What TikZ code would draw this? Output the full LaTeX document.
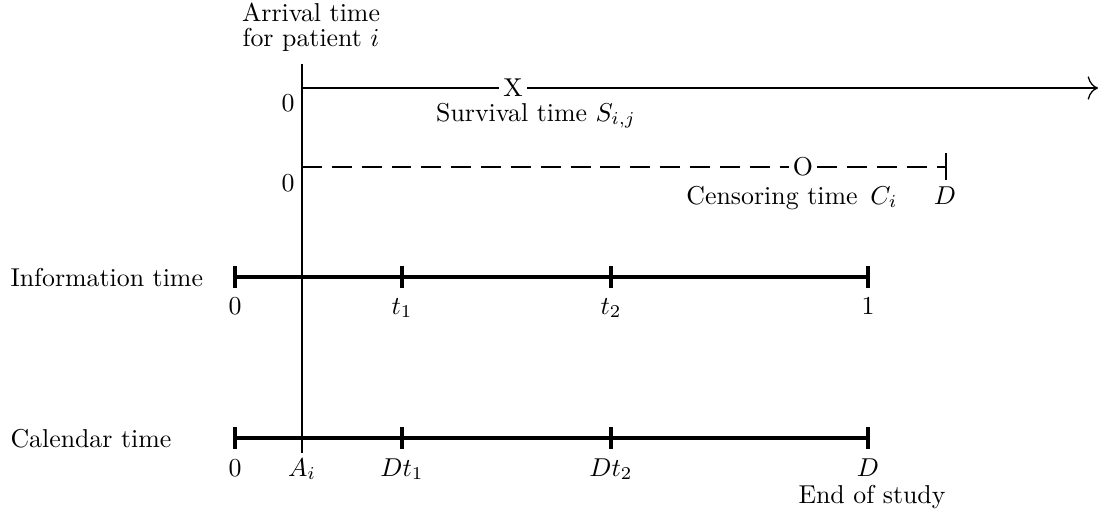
\documentclass[tikz,border=0pt]{standalone}
\usetikzlibrary{arrows.meta}
\begin{document}
\begin{tikzpicture}[x=0.387pt,y=-0.387pt,
  axisline/.style={line width=1.6pt},
  thinline/.style={line width=0.5pt},
  dashline/.style={line width=0.6pt, dash pattern=on 7.7pt off 3.85pt},
  lbl/.style={anchor=base, inner sep=0pt},
  lblw/.style={anchor=base west, inner sep=0pt},
  marker/.style={inner sep=1.5pt}]
\useasboundingbox (0,0) rectangle (1111,515);

% arrival-time vertical line
\node[lbl] (arr1) at (311,21) {Arrival time};
\node[lbl] (arr2) at (311,46) {for patient $i$};
\coordinate (vtop) at (302,64);
\coordinate (vbot) at (302,453);
\draw[thinline] (vtop) -- (vbot);

% survival time line
\coordinate (s0) at (302,88);
\node[marker] (X) at (513,88) {X};
\coordinate (send) at (1098,88);
\draw[thinline] (s0) -- (X.west);
\draw[thinline, -{To[length=4pt,width=9pt]}] (X.east) -- (send);
\node[lbl] (z1) at (288,111) {0};
\node[lbl] (surv) at (536,121) {Survival time $S_{i,j}$};

% censoring time line
\coordinate (c0) at (302,167);
\node[marker] (O) at (803,167) {O};
\coordinate (cend) at (946,167);
\draw[dashline] (c0) -- (O.west);
\draw[dashline] (O.east) -- (cend);
\coordinate (ct1) at (946,153);
\coordinate (ct2) at (946,180);
\draw[thinline] (ct1) -- (ct2);
\node[lbl] (z2) at (288,191) {0};
\node[lbl] (cens) at (792,204) {Censoring time\hspace{0.5em}$C_i$};
\node[lbl] (Dc) at (945,204) {$D$};

% information time axis
\node[lblw] (info) at (10,286) {Information time};
\coordinate (i0) at (235,277);
\coordinate (i1) at (402,277);
\coordinate (i2) at (611,277);
\coordinate (i3) at (868,277);
\draw[axisline] (i0) -- (i3);
\foreach \p in {i0,i1,i2,i3}
  \draw[axisline] ([yshift=-11*0.387pt]\p) -- ([yshift=11*0.387pt]\p);
\node[lbl] (il0) at (235,314) {$0$};
\node[lbl] (il1) at (402,314) {$t_1$};
\node[lbl] (il2) at (611,314) {$t_2$};
\node[lbl] (il3) at (868,314) {$1$};

% calendar time axis
\node[lblw] (cal) at (10,447) {Calendar time};
\coordinate (k0) at (235,438);
\coordinate (k1) at (402,438);
\coordinate (k2) at (611,438);
\coordinate (k3) at (868,438);
\draw[axisline] (k0) -- (k3);
\foreach \p in {k0,k1,k2,k3}
  \draw[axisline] ([yshift=-11*0.387pt]\p) -- ([yshift=11*0.387pt]\p);
\node[lbl] (kl0) at (235,476) {$0$};
\node[lbl] (kla) at (302,476) {$A_i$};
\node[lbl] (kl1) at (402,476) {$Dt_1$};
\node[lbl] (kl2) at (611,476) {$Dt_2$};
\node[lbl] (kl3) at (868,476) {$D$};
\node[lbl] (end) at (872,503) {End of study};
\end{tikzpicture}
\end{document}
